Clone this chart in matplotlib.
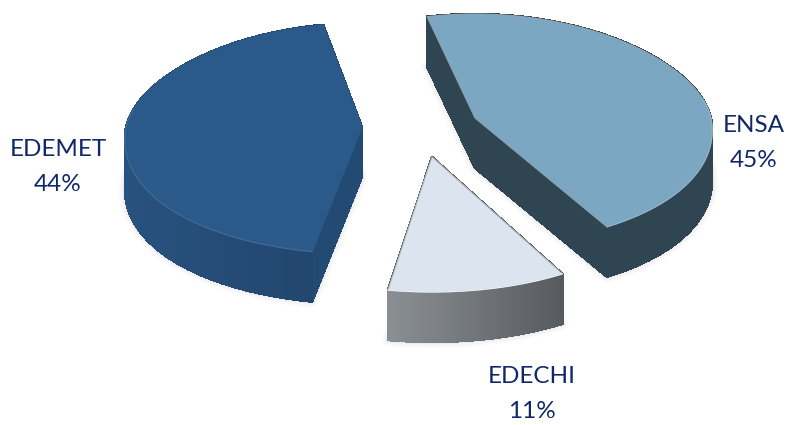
import numpy as np
import matplotlib
matplotlib.use('Agg')
import matplotlib.pyplot as plt
from matplotlib.colors import to_rgb

# Chart data
slice_names = ['ENSA', 'EDECHI', 'EDEMET']
slice_pct = [45, 11, 44]

# Look of each slice: apex pixel, small rotation, radii, colours
apex = [(475, 118), (432, 157), (362, 127)]
turn = [1, 2, 3.5]
rx_list = [236, 240, 236]
ry_front_list = [127, 135, 127]
top_colors = ['#7ba7c2', '#dce5ef', '#2b5a8a']
wall_left = ['#2f4552', '#8b9095', '#28527f']
wall_right = ['#2f4552', '#575b60', '#22466d']
radial_colors = ['#2f4552', '#575b60', '#234a73']
edge_colors = ['#8fa3b0', '#b9c0c8', '#2b5a8a']
rim_colors = ['#8fb4cc', '#eef3f8', '#3f6c99']
label_pos = [(754, 143), (532, 394), (58, 167)]

start_angle = -14
ry_back = 104
depth = 50
perspective = 0.1


def ellipse_point(theta, center, rx, ry_front):
    # theta in degrees, clockwise from 12 o'clock
    t = np.radians(theta)
    c = np.cos(t)
    s = np.sin(t)
    x = center[0] + rx * s * (1 - perspective * c)
    ry = np.where(c > 0, ry_back, ry_front)
    y = center[1] - ry * c
    return x, y


def mix(c1, c2, f):
    a = np.array(to_rgb(c1))
    b = np.array(to_rgb(c2))
    return tuple(a + (b - a) * f)


fig = plt.figure(figsize=(7.88, 4.25), dpi=100)
ax = fig.add_axes([0, 0, 1, 1])
ax.set_xlim(0, 788)
ax.set_ylim(425, 0)
ax.axis('off')

angle = start_angle
for i, pct in enumerate(slice_pct):
    sweep = pct / sum(slice_pct) * 360
    a0 = angle + turn[i]
    a1 = a0 + sweep
    angle += sweep
    cx, cy = apex[i]

    theta = np.linspace(a0, a1, 120)
    ax_, ay_ = ellipse_point(theta, apex[i], rx_list[i], ry_front_list[i])
    xs = np.concatenate([[cx], ax_])
    ys = np.concatenate([[cy], ay_])

    # soft shadow round the lower outline
    for w, al in [(9, 0.025), (6, 0.04), (3, 0.06)]:
        ax.fill(xs, ys + depth, facecolor='none', edgecolor='#555555',
                linewidth=w, alpha=al, joinstyle='round', zorder=1)

    # solid underlay so the wall strips leave no seams
    under = mix(wall_left[i], wall_right[i], 0.5)
    ax.fill(xs, ys + depth, color=under, linewidth=0.5, zorder=1.5)

    # walls, back to front
    quads = []
    quads.append((cy, [cx, xs[1]], [cy, ys[1]], radial_colors[i]))
    quads.append((cy, [cx, xs[-1]], [cy, ys[-1]], radial_colors[i]))
    for k in range(len(ax_) - 1):
        f = (ax_[k] - ax_.min()) / (ax_.max() - ax_.min())
        col = mix(wall_left[i], wall_right[i], f)
        quads.append((ay_[k], [ax_[k], ax_[k + 1]], [ay_[k], ay_[k + 1]], col))
    quads.sort(key=lambda q: q[0])
    for _, qx, qy, col in quads:
        ax.fill([qx[0], qx[1], qx[1], qx[0]],
                [qy[0], qy[1], qy[1] + depth, qy[0] + depth],
                color=col, linewidth=1.0, antialiased=False, zorder=2)

    # top face
    ax.fill(xs, ys, facecolor=top_colors[i], edgecolor=edge_colors[i],
            linewidth=0.8, zorder=3)

    # light rim along the front of the top face
    front = np.cos(np.radians(theta)) < 0.2
    ax.plot(ax_[front], ay_[front], color=rim_colors[i], linewidth=0.8, zorder=3.5)

    ax.text(label_pos[i][0], label_pos[i][1], f'{slice_names[i]}\n{pct}%',
            ha='center', va='center', fontsize=17.5, family='Lato',
            color='#10286a', linespacing=1.85, zorder=5)

fig.savefig('out.png', dpi=100)
